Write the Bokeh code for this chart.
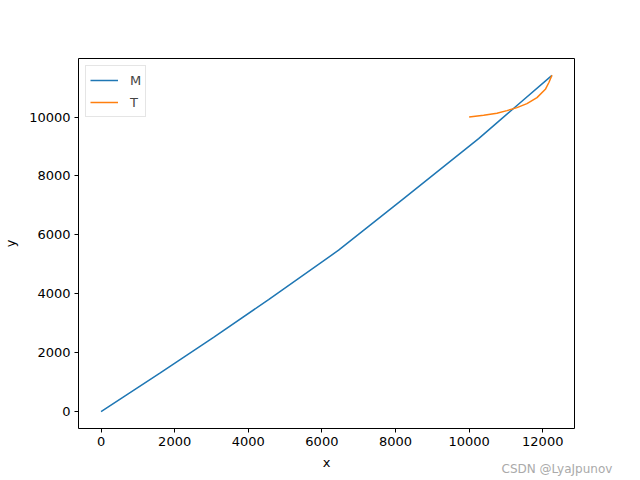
from bokeh.plotting import figure
from bokeh.models import Range1d, FixedTicker, Legend, LegendItem, Title
from bokeh.embed import file_html
from bokeh.resources import INLINE

# Missile (M) trajectory
m_x = [0, 1609, 3057, 4552, 6454, 8220, 10258, 10800, 11300, 12250]
m_y = [0, 1313, 2525, 3804, 5480, 7231, 9267, 9850, 10390, 11415]

# Target (T) trajectory
t_x = [10000, 10394, 10756, 11028, 11299, 11571, 11843, 12071, 12170, 12250]
t_y = [10000, 10058, 10126, 10217, 10319, 10455, 10658, 10940, 11180, 11415]

x_ticks = [0, 2000, 4000, 6000, 8000, 10000, 12000]
y_ticks = [0, 2000, 4000, 6000, 8000, 10000]

FONT = "DejaVu Sans"

p = figure(output_backend="svg", toolbar_location=None,
           frame_width=496, frame_height=370,
           min_border_left=72, min_border_right=56,
           min_border_top=58, min_border_bottom=50,
           x_range=Range1d(-612.5, 12862.5),
           y_range=Range1d(-570.75, 11985.75))

p.background_fill_color = "white"
p.border_fill_color = "white"
p.outline_line_color = "black"
p.outline_line_width = 1
p.grid.visible = False

r1 = p.line(m_x, m_y, line_color="#1f77b4", line_width=1.5)
r2 = p.line(t_x, t_y, line_color="#ff7f0e", line_width=1.5)

for ax in (p.xaxis[0], p.yaxis[0]):
    ax.axis_line_color = None
    ax.major_tick_out = 4
    ax.major_tick_in = 0
    ax.minor_tick_line_color = None
    ax.major_tick_line_color = "black"
    ax.major_label_text_font = FONT
    ax.major_label_text_font_size = "13px"
    ax.major_label_text_color = "black"
    ax.axis_label_text_font = FONT
    ax.axis_label_text_font_size = "13px"
    ax.axis_label_text_font_style = "normal"
    ax.axis_label_text_color = "black"
    ax.major_label_standoff = 4

p.xaxis[0].ticker = FixedTicker(ticks=x_ticks)
p.yaxis[0].ticker = FixedTicker(ticks=y_ticks)
p.xaxis[0].axis_label = "x"
p.yaxis[0].axis_label = "y"
p.xaxis[0].axis_label_standoff = 6
p.yaxis[0].axis_label_standoff = 8

legend = Legend(items=[LegendItem(label="M", renderers=[r1]),
                       LegendItem(label="T", renderers=[r2])],
                location="top_left")
legend.margin = 7
legend.padding = 4
legend.spacing = 2
legend.glyph_width = 28
legend.glyph_height = 20
legend.label_standoff = 12
legend.label_width = 8
legend.label_text_font = FONT
legend.label_text_font_size = "13px"
legend.label_height = 20
legend.border_line_color = "#cccccc"
legend.border_line_width = 1
legend.background_fill_alpha = 0.8
p.add_layout(legend)

# Watermark as a title under the x axis (titles are not clipped to the frame)
wm = Title(text="CSDN @LyaJpunov", align="left", offset=423,
           standoff=-22, vertical_align="top",
           text_font=FONT, text_font_size="12px",
           text_font_style="normal", text_color="#aaaaaa")
p.add_layout(wm, "below")

open("out.html", "w").write(file_html(p, INLINE))
